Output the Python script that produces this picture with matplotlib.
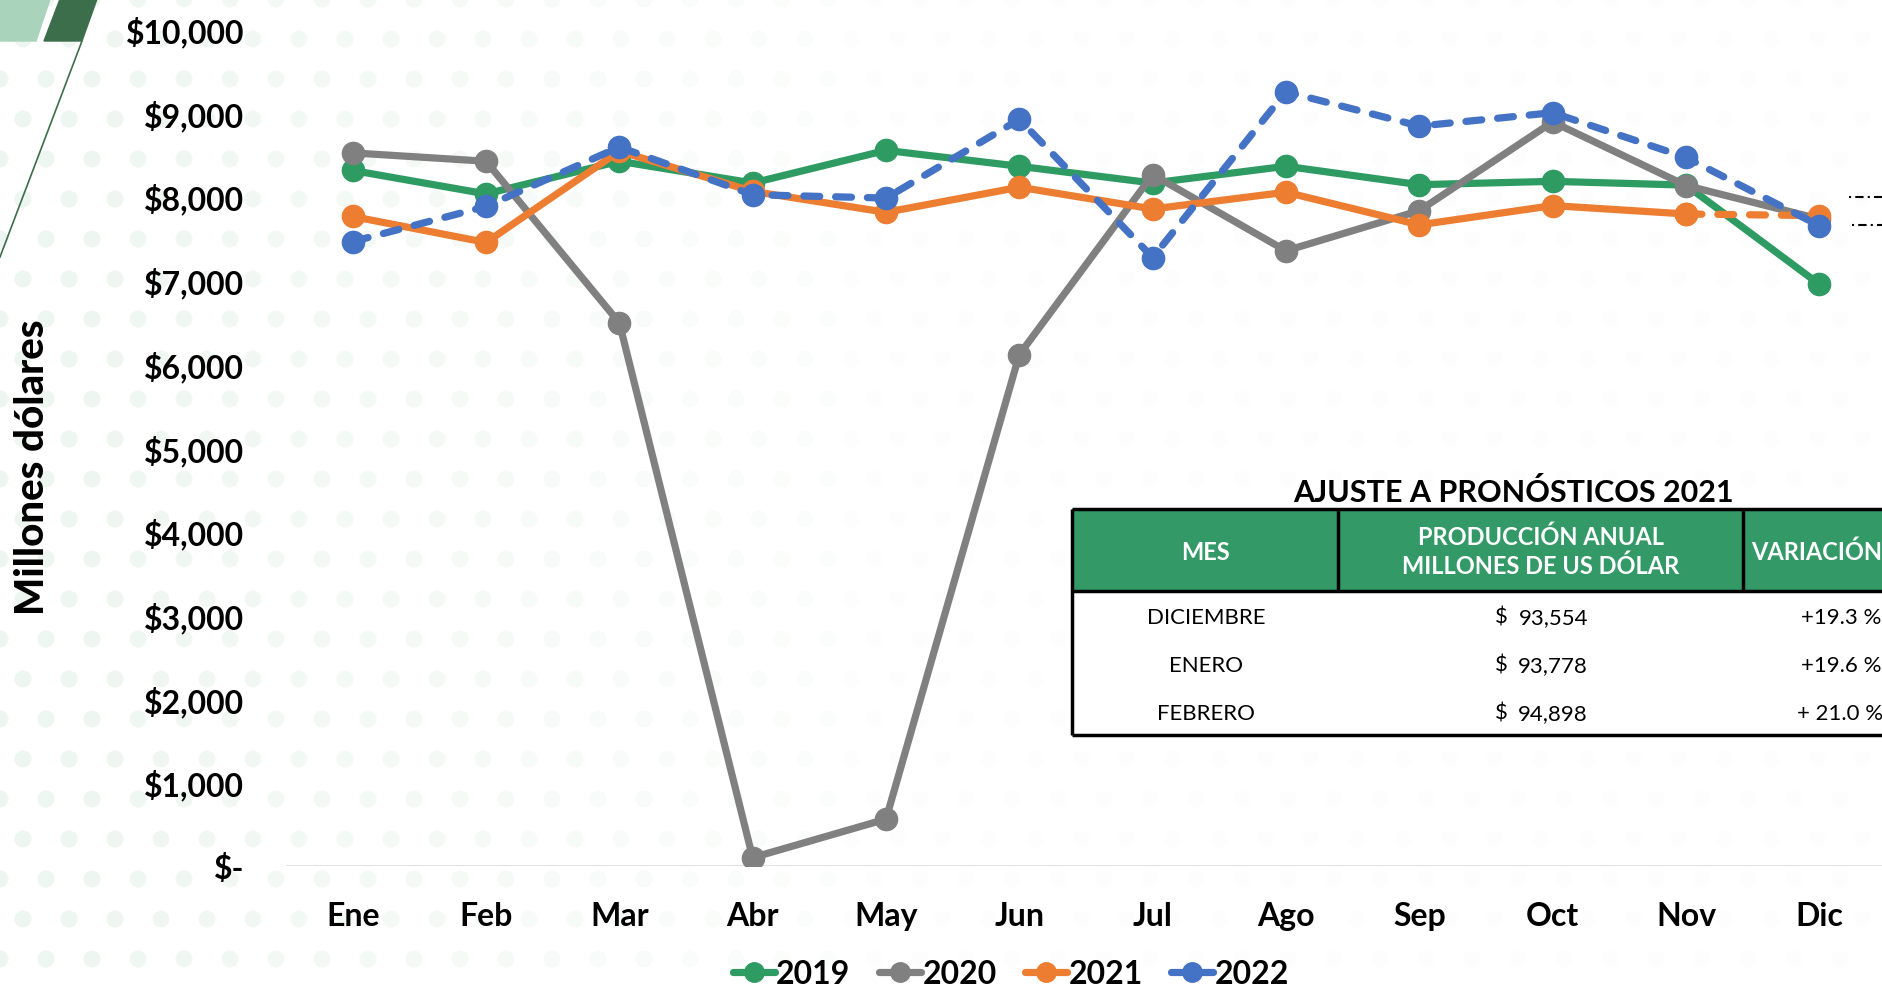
import numpy as np
import matplotlib
matplotlib.use('Agg')
import matplotlib.pyplot as plt
from matplotlib.lines import Line2D
from matplotlib.patches import Rectangle, Polygon

# datos (millones de dolares)
meses = ['Ene', 'Feb', 'Mar', 'Abr', 'May', 'Jun', 'Jul', 'Ago', 'Sep', 'Oct', 'Nov', 'Dic']
v2019 = [8310, 8030, 8420, 8160, 8550, 8360, 8160, 8360, 8140, 8180, 8135, 6950]
v2020 = [8520, 8420, 6490, 100, 560, 6110, 8260, 7350, 7830, 8890, 8130, 7730]
v2021 = [7760, 7450, 8540, 8060, 7810, 8110, 7850, 8050, 7660, 7890, 7790, 7770]
v2022 = [7460, 7880, 8590, 8020, 7980, 8920, 7270, 9250, 8840, 9000, 8465, 7650]
y_ticks = [0, 1000, 2000, 3000, 4000, 5000, 6000, 7000, 8000, 9000, 10000]
y_labels = ['$-', '$1,000', '$2,000', '$3,000', '$4,000', '$5,000',
            '$6,000', '$7,000', '$8,000', '$9,000', '$10,000']

# tabla de pronosticos
tabla_titulo = 'AJUSTE A PRONÓSTICOS 2021'
tabla_cols = ['MES', 'PRODUCCIÓN ANUAL\nMILLONES DE US DÓLAR', 'VARIACIÓN']
tabla_mes = ['DICIEMBRE', 'ENERO', 'FEBRERO']
tabla_prod = ['93,554', '93,778', '94,898']
tabla_var = ['+19.3 %', '+19.6 %', '+ 21.0 %']

verde = '#2E9B63'
gris = '#808080'
naranja = '#ED7D31'
azul = '#4472C4'
fuente = ['Lato', 'DejaVu Sans']

W, H = 1883, 995
fig = plt.figure(figsize=(W / 100, H / 100), dpi=100)
fig.patch.set_facecolor('white')

# fondo: puntos tenues y figuras de la esquina
bg = fig.add_axes([0, 0, 1, 1], zorder=0)
bg.set_xlim(0, W)
bg.set_ylim(H, 0)
bg.axis('off')
gx, gy = np.meshgrid(np.arange(0, W, 46), np.arange(0, H, 40))
gx = gx + (np.arange(gx.shape[0])[:, None] % 2) * 23
alpha = np.clip(1.0 - gx.ravel() / 1000, 0.15, 1.0) * 0.7
cols = np.zeros((gx.size, 4))
cols[:, :3] = matplotlib.colors.to_rgb('#e6f2ea')
cols[:, 3] = alpha
bg.scatter(gx.ravel(), gy.ravel(), s=150, c=cols, linewidths=0)
bg.add_patch(Polygon([(0, 0), (50, 0), (36, 42), (0, 42)], closed=True,
                     color='#a9d3bb'))
bg.add_patch(Polygon([(60, 0), (97, 0), (82, 42), (44, 42)], closed=True,
                     color='#3d6e4c'))
bg.plot([82, 0], [42, 258], color='#3d6e4c', lw=1.2)

# grafica principal
ax = fig.add_axes([286 / W, 128 / H, 1600 / W, 837 / H], zorder=2)
ax.patch.set_alpha(0)
x = np.arange(len(meses))
kw = dict(lw=5.2, marker='o', ms=16, solid_capstyle='round',
          solid_joinstyle='round', dash_capstyle='round')
ax.plot(x, v2019, color=verde, **kw)
ax.plot(x, v2020, color=gris, **kw)
ax.plot(x[:11], v2021[:11], color=naranja, **kw)
ax.plot(x[10:], v2021[10:], color=naranja, ls=(0, (2.2, 2.2)), **kw)
ax.plot(x, v2022, color=azul, ls=(0, (2.2, 2.2)), **kw)
ax.axhline(0, color='#d9d9d9', lw=1.8, zorder=1)

ax.set_xlim(-0.5, 11.5)
ax.set_ylim(0, 10000)
ax.set_xticks(x)
ax.set_xticklabels(meses, fontsize=23, fontweight='bold', family=fuente)
ax.set_yticks(y_ticks)
ax.set_yticklabels(y_labels, fontsize=23, fontweight='bold', family=fuente)
ax.tick_params(length=0)
ax.tick_params(axis='x', pad=25)
ax.tick_params(axis='y', pad=30)
for s in ax.spines.values():
    s.set_visible(False)

fig.text(33 / W, 1 - 467 / H, 'Millones dólares', rotation=90, ha='center',
         va='center', fontsize=29, fontweight='black', family=fuente)

# leyenda
handles = [Line2D([], [], color=c, lw=5.2, marker='o', ms=14, solid_capstyle='round')
           for c in [verde, gris, naranja, azul]]
leg = fig.legend(handles, ['2019', '2020', '2021', '2022'], loc='center',
                 bbox_to_anchor=(1011 / W, 1 - 975 / H), ncol=4, frameon=False,
                 handlelength=1.3, handletextpad=0.05, columnspacing=0.9,
                 prop=dict(family=fuente, weight='bold', size=23))

# tabla
ov = fig.add_axes([0, 0, 1, 1], zorder=3)
ov.set_xlim(0, W)
ov.set_ylim(H, 0)
ov.axis('off')
left, top, hbot, bot = 1072, 510, 592, 736
c1, c2 = 1338, 1743
ov.add_patch(Rectangle((left, top), W + 50 - left, bot - top, facecolor='white',
                       edgecolor='none'))
ov.add_patch(Rectangle((left, top), W + 50 - left, hbot - top, facecolor='#339966',
                       edgecolor='none'))
lk = dict(color='black', lw=2.5, solid_capstyle='butt')
ov.plot([left, W + 10], [top, top], **lk)
ov.plot([left, W + 10], [hbot, hbot], **lk)
ov.plot([left, W + 10], [bot, bot], **lk)
ov.plot([left, left], [top, bot], **lk)
ov.plot([c1, c1], [top, hbot], **lk)
ov.plot([c2, c2], [top, hbot], **lk)

ov.text(1513, 492, tabla_titulo, ha='center', va='center', fontsize=22,
        fontweight='bold', family=fuente, color='black')
hk = dict(va='center', fontsize=17, fontweight='bold', family=fuente, color='white')
ov.text(1206, 552, tabla_cols[0], ha='center', **hk)
ov.text(1541, 552, tabla_cols[1], ha='center', linespacing=1.3, **hk)
ov.text(1751, 552, tabla_cols[2], ha='left', **hk)
rk = dict(va='center', fontsize=16, family=fuente, color='black')
for i in range(len(tabla_mes)):
    yy = 618 + 48 * i
    ov.text(1206, yy, tabla_mes[i], ha='center', **rk)
    ov.text(1495, yy, '$', ha='left', **rk)
    ov.text(1588, yy, tabla_prod[i], ha='right', **rk)
    ov.text(1801 - (4 if tabla_var[i].startswith('+ ') else 0), yy, tabla_var[i],
            ha='left', **rk)

# marcas cortadas en el borde derecho
ov.plot([1849, 1883], [198, 198], color='black', lw=1.5, ls=(0, (1, 2, 4, 2)))
ov.plot([1852, 1883], [226, 226], color='black', lw=1.5, ls=(0, (1, 2, 4, 2)))

fig.savefig('out.png', dpi=100)
